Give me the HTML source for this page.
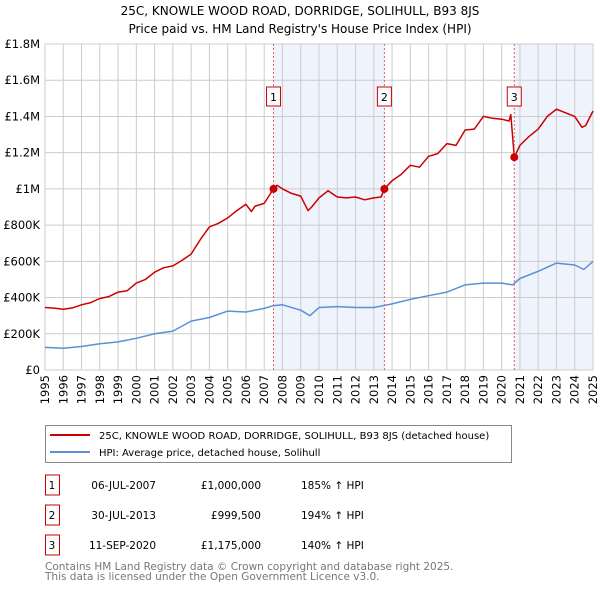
<!DOCTYPE html>
<html><head><meta charset="utf-8"><style>
html,body{margin:0;padding:0;background:#fff;width:600px;height:590px;overflow:hidden}
svg text{font-family:"DejaVu Sans","Liberation Sans",sans-serif}
</style></head><body>
<svg id="chart" width="600" height="590" xmlns="http://www.w3.org/2000/svg">
<text x="300" y="15" text-anchor="middle" font-size="12" fill="#000">25C, KNOWLE WOOD ROAD, DORRIDGE, SOLIHULL, B93 8JS</text>
<text x="300" y="33" text-anchor="middle" font-size="12" fill="#000">Price paid vs. HM Land Registry's House Price Index (HPI)</text>
<g id="shade"></g><g id="grid"></g><g id="axes"></g><g id="series"></g><g id="markers"></g>
<g>
<rect x="45.5" y="425.5" width="466" height="37" fill="#fff" stroke="#888"/>
<line x1="50" y1="435" x2="90" y2="435" stroke="#cc0000" stroke-width="2"/>
<text x="99" y="439" font-size="10" fill="#000">25C, KNOWLE WOOD ROAD, DORRIDGE, SOLIHULL, B93 8JS (detached house)</text>
<line x1="50" y1="452" x2="90" y2="452" stroke="#5b8fd6" stroke-width="2"/>
<text x="99" y="456" font-size="10" fill="#000">HPI: Average price, detached house, Solihull</text>
</g>
<g id="table"></g>
<text x="45" y="570" font-size="10.5" fill="#777">Contains HM Land Registry data © Crown copyright and database right 2025.</text>
<text x="45" y="580" font-size="10.5" fill="#777">This data is licensed under the Open Government Licence v3.0.</text>
</svg>
<script>
const yTicks=[0,200000,400000,600000,800000,1000000,1200000,1400000,1600000,1800000];
const yTickLabels=["£0","£200K","£400K","£600K","£800K","£1M","£1.2M","£1.4M","£1.6M","£1.8M"];
const xYears=[1995,1996,1997,1998,1999,2000,2001,2002,2003,2004,2005,2006,2007,2008,2009,2010,2011,2012,2013,2014,2015,2016,2017,2018,2019,2020,2021,2022,2023,2024,2025];
const redDates=[1995,1995.5,1996,1996.5,1997,1997.5,1998,1998.5,1999,1999.5,2000,2000.5,2001,2001.5,2002,2002.5,2003,2003.5,2004,2004.5,2005,2005.5,2006,2006.3,2006.5,2007,2007.51,2007.7,2008,2008.5,2009,2009.4,2009.6,2010,2010.5,2011,2011.5,2012,2012.5,2013,2013.4,2013.58,2014,2014.5,2015,2015.5,2016,2016.5,2017,2017.5,2018,2018.5,2019,2019.5,2020,2020.4,2020.5,2020.69,2021,2021.5,2022,2022.5,2023,2023.5,2024,2024.4,2024.6,2025];
const redValues=[345,342,335,343,360,372,395,405,430,438,480,500,540,565,575,605,640,720,790,810,840,880,915,875,905,920,1000,1020,1000,975,960,880,900,950,990,955,950,955,940,950,955,1000,1045,1080,1130,1120,1180,1195,1250,1240,1325,1330,1400,1390,1385,1375,1410,1175,1240,1290,1330,1400,1440,1420,1400,1340,1350,1430];
const hpiDates=[1995,1996,1997,1998,1999,2000,2001,2002,2003,2004,2005,2006,2007,2007.5,2008,2009,2009.5,2010,2011,2012,2013,2014,2015,2016,2017,2018,2019,2020,2020.6,2021,2022,2023,2024,2024.5,2025];
const hpiValues=[125,120,130,145,155,175,200,215,270,290,325,320,340,355,360,330,300,345,350,345,345,365,390,410,430,470,480,480,470,505,545,590,580,555,600];
const saleDates=[2007.51,2013.58,2020.69];
const saleValues=[1000,999.5,1175];
const saleLabels=["1","2","3"];
const saleDateText=["06-JUL-2007","30-JUL-2013","11-SEP-2020"];
const salePriceText=["£1,000,000","£999,500","£1,175,000"];
const salePctText=["185% ↑ HPI","194% ↑ HPI","140% ↑ HPI"];

const X0=45,X1=593,Y0=370,Y1=44;
const xs=d=>X0+(d-1995)/30*(X1-X0);
const ys=v=>Y0-v/1800000*(Y0-Y1);
const NS="http://www.w3.org/2000/svg";
function mk(tag,attrs,parent){const e=document.createElementNS(NS,tag);for(const k in attrs)e.setAttribute(k,attrs[k]);document.getElementById(parent).appendChild(e);return e;}

// shaded bands
let s1=mk('rect',{x:xs(saleDates[0]),y:Y1,width:xs(saleDates[1])-xs(saleDates[0]),height:Y0-Y1,fill:'#eef3fc'},'shade');


let s2=mk('rect',{x:xs(saleDates[2]),y:Y1,width:X1-xs(saleDates[2]),height:Y0-Y1,fill:'#eef3fc'},'shade');



// grid
yTicks.forEach((v,i)=>{
 let l=mk('line',{x1:X0,x2:X1,y1:ys(v),y2:ys(v),stroke:'#ccc','stroke-width':1},'grid');
 
 
 let t=mk('text',{x:X0-5,y:ys(v)+4,'text-anchor':'end','font-size':11.5,fill:'#000'},'axes');
 t.textContent=yTickLabels[i];
 
 
});
xYears.forEach(yr=>{
 let l=mk('line',{x1:xs(yr),x2:xs(yr),y1:Y1,y2:Y0,stroke:'#ccc','stroke-width':1},'grid');
 
 
 let t=mk('text',{x:0,y:0,'text-anchor':'end','font-size':11.5,fill:'#000',transform:`translate(${xs(yr)+4},375) rotate(-90)`},'axes');
 t.textContent=yr;
 
 
});
let fr=mk('rect',{x:X0,y:Y1,width:X1-X0,height:Y0-Y1,fill:'none',stroke:'#ccc'},'grid');



// sale vlines
saleDates.forEach((d,i)=>{
 let l=mk('line',{x1:xs(d),x2:xs(d),y1:Y1,y2:Y0,stroke:'#e06060','stroke-width':1,'stroke-dasharray':'2,2'},'markers');
 
 
});

function path(ds,vs,color,name){
 const d=ds.map((t,i)=>(i?'L':'M')+xs(t).toFixed(1)+','+ys(vs[i]*1000).toFixed(1)).join('');
 let p=mk('path',{d,fill:'none',stroke:color,'stroke-width':1.5,'stroke-linejoin':'round'},'series');
 
 
}
path(hpiDates,hpiValues,'#5b8fd6','hpi-line');
path(redDates,redValues,'#cc0000','property-price-line');

saleDates.forEach((d,i)=>{
 let c=mk('circle',{cx:xs(d),cy:ys(saleValues[i]*1000),r:4,fill:'#cc0000'},'markers');
 
 
 let b=mk('rect',{x:xs(d)-7,y:87,width:14,height:19,fill:'#fff',stroke:'#cc0000'},'markers');
 
 
 let t=mk('text',{x:xs(d),y:101,'text-anchor':'middle','font-size':11,fill:'#000'},'markers');
 t.textContent=saleLabels[i];
 
 
});

// table
saleLabels.forEach((lab,i)=>{
 const yc=483+i*30;
 let b=mk('rect',{x:45.5,y:yc-8,width:14,height:20,fill:'#fff',stroke:'#cc0000'},'table');
 
 
 const cells=[[52,'middle',lab,'table-num'],[156,'end',saleDateText[i],'table-date'],[261,'end',salePriceText[i],'table-price'],[301,'start',salePctText[i],'table-hpi-pct']];
 cells.forEach(c=>{
  let t=mk('text',{x:c[0],y:yc+6,'text-anchor':c[1],'font-size':10.5,fill:'#000'},'table');
  t.textContent=c[2];
  
  
 });
});
</script>
</body></html>
